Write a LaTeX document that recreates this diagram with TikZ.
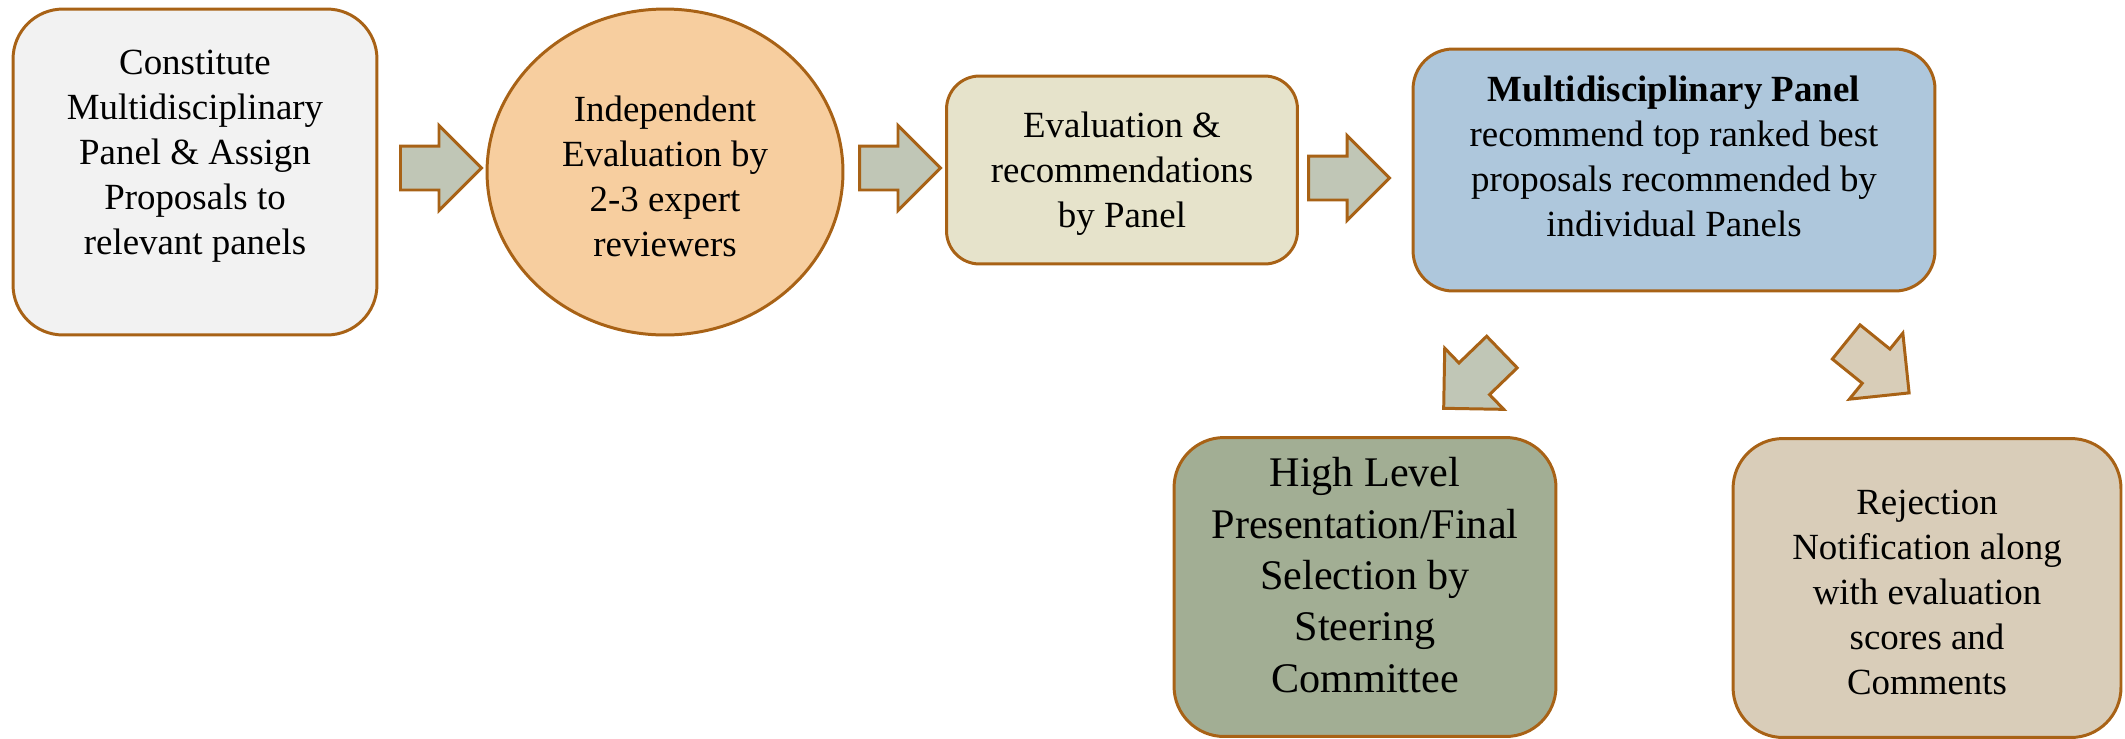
\documentclass[tikz,border=0pt]{standalone}
\usepackage{fontspec}
\setmainfont{Liberation Serif}
\usetikzlibrary{shapes.geometric}
\usetikzlibrary{shapes.arrows,positioning}

\definecolor{edgebrown}{RGB}{168,98,22}
\definecolor{arrowgray}{RGB}{192,198,182}
\definecolor{arrowtan}{RGB}{216,205,184}
\definecolor{fillgray}{RGB}{242,242,242}
\definecolor{fillpeach}{RGB}{247,206,159}
\definecolor{fillcream}{RGB}{230,227,203}
\definecolor{fillblue}{RGB}{174,199,220}
\definecolor{fillsage}{RGB}{162,174,148}
\definecolor{filltan}{RGB}{217,205,185}

\begin{document}
\begin{tikzpicture}[x=0.02cm, y=-0.02cm, line width=1.7pt]
\tikzstyle{stage}=[draw=edgebrown, rectangle, inner sep=0pt] %%
\tikzstyle{txt}=[align=center, inner sep=0pt, font=\fontsize{21}{25.6}\selectfont] %%
\tikzstyle{flow}=[single arrow, draw=edgebrown, fill=arrowgray, inner sep=0pt,
  text height=0.41cm, text depth=0.41cm, single arrow head extend=0.41cm,
  single arrow tip angle=90, minimum height=1.62cm, anchor=tail] %%
\useasboundingbox (0,0) rectangle (2125,738);
% top row
\node[stage, fill=fillgray, rounded corners=1cm, minimum width=7.28cm, minimum height=6.52cm] (b1) at (195,172) {}; %%
\node[txt] (t1) at (195,156) {Constitute\\Multidisciplinary\\Panel \& Assign\\Proposals to\\relevant panels}; %%
\node[stage, fill=fillpeach, ellipse, minimum width=7.12cm, minimum height=6.52cm] (b2) at (665,172) {}; %%
\node[txt] (t2) at (665,176) {Independent\\Evaluation by\\2-3 expert\\reviewers}; %%
\node[stage, fill=fillcream, rounded corners=0.66cm, minimum width=7.02cm, minimum height=3.76cm] (b3) at (1122,170) {}; %%
\node[txt] (t3) at (1122,174) {Evaluation \&\\recommendations\\by Panel}; %%
\node[stage, fill=fillblue, rounded corners=0.8cm, minimum width=10.44cm, minimum height=4.84cm] (b4) at (1674,170) {}; %%
\node[txt] (t4) at (1674,156) {\textbf{Multidisciplinary Panel}\\recommend top ranked best\\proposals recommended by\\individual Panels}; %%
% bottom row
\node[stage, fill=fillsage, rounded corners=1cm, minimum width=7.64cm, minimum height=5.98cm] (b5) at (1365,587) {}; %%
\node[txt, font=\fontsize{24}{29.2}\selectfont] (t5) at (1365,575) {High Level\\Presentation/Final\\Selection by\\Steering\\Committee}; %%
\node[stage, fill=filltan, rounded corners=1cm, minimum width=7.76cm, minimum height=5.98cm] (b6) at (1927,588) {}; %%
\node[txt] (t6) at (1927,592) {Rejection\\Notification along\\with evaluation\\scores and\\Comments}; %%
% block arrows
\node[flow] (a1) at (399,168) {}; %%
\node[flow] (a2) at (858,168) {}; %%
\node[flow] (a3) at (1307,178) {}; %%
\node[flow, rotate=224] (a4) at (1503,351) {}; %%
\node[flow, fill=arrowtan, rotate=-39] (a5) at (1845,341) {}; %%
\end{tikzpicture}
\end{document}
